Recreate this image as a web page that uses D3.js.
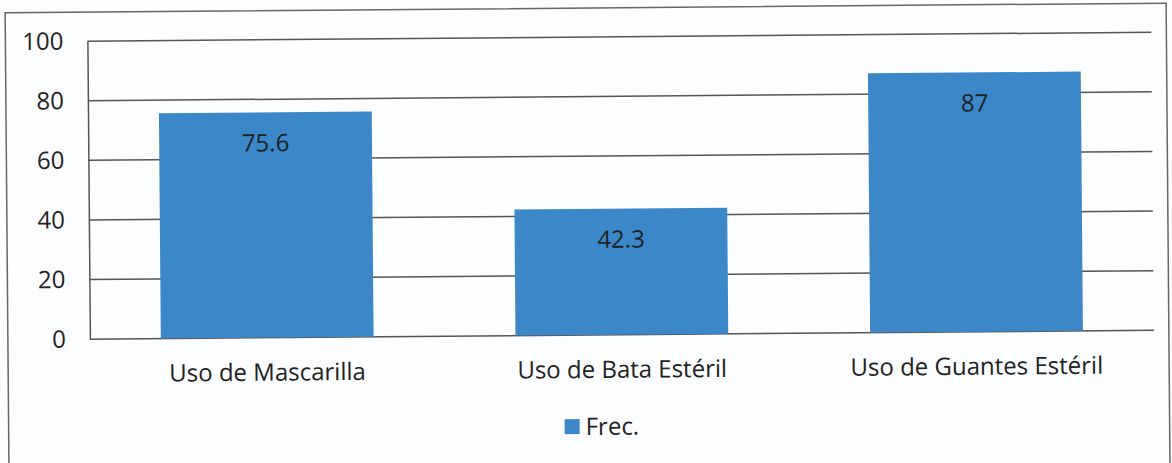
<!DOCTYPE html>
<html>
<head>
<meta charset="utf-8">
<script src="https://cdn.jsdelivr.net/npm/d3@7"></script>
<style>
  body { margin: 0; background: #fcfdfe; }
  text { font-family: "Open Sans", sans-serif; fill: #222; }
</style>
</head>
<body>
<script>
/* chart data */
var categories = ["Uso de Mascarilla", "Uso de Bata Estéril", "Uso de Guantes Estéril"];
var values = [75.6, 42.3, 87];
var yTicks = [0, 20, 40, 60, 80, 100];
var seriesName = "Frec.";

var W = 1172, H = 463;
var margin = { top: 37, right: 19, bottom: 128, left: 89 };
var font = "'Open Sans', sans-serif";
var fs = "24px";

var svg = d3.select("body").append("svg")
    .attr("width", W)
    .attr("height", H);

// the scan is a little tilted
var g = svg.append("g")
    .attr("transform", "rotate(-0.48," + (W / 2) + "," + (H / 2) + ")");

g.append("rect")
    .attr("x", 7).attr("y", 8)
    .attr("width", 1161).attr("height", 470)
    .attr("fill", "none")
    .attr("stroke", "#666")
    .attr("stroke-width", 1.5);

var x = d3.scaleBand()
    .domain(categories)
    .range([margin.left, W - margin.right])
    .paddingInner(0.4)
    .paddingOuter(0.2);

var y = d3.scaleLinear()
    .domain([0, 100])
    .range([H - margin.bottom, margin.top]);

// gridlines
g.selectAll("line.grid")
    .data(yTicks)
    .enter()
    .append("line")
    .attr("class", "grid")
    .attr("x1", margin.left)
    .attr("x2", W - margin.right)
    .attr("y1", function(d) { return y(d); })
    .attr("y2", function(d) { return y(d); })
    .attr("stroke", "#555")
    .attr("stroke-width", 1.5);

// left axis
var yAxis = g.append("g")
    .attr("transform", "translate(" + margin.left + ",0)")
    .call(d3.axisLeft(y).tickValues(yTicks).tickSize(0).tickPadding(24));
yAxis.select(".domain").attr("stroke", "#555").attr("stroke-width", 1.5);
yAxis.selectAll("text")
    .style("font-size", fs)
    .style("font-family", font)
    .attr("fill", "#222");

// bars
g.selectAll("rect.bar")
    .data(values)
    .enter()
    .append("rect")
    .attr("class", "bar")
    .attr("x", function(d, i) { return x(categories[i]); })
    .attr("width", x.bandwidth())
    .attr("y", function(d) { return y(d); })
    .attr("height", function(d) { return y(0) - y(d); })
    .attr("fill", "#3b87c8");

// value labels
g.selectAll("text.val")
    .data(values)
    .enter()
    .append("text")
    .attr("class", "val")
    .attr("x", function(d, i) { return x(categories[i]) + x.bandwidth() / 2; })
    .attr("y", function(d) { return y(d) + 39; })
    .attr("text-anchor", "middle")
    .style("font-size", fs)
    .text(function(d) { return d; });

// category labels
var xAxis = g.append("g")
    .attr("transform", "translate(0," + y(0) + ")")
    .call(d3.axisBottom(x).tickSize(0).tickPadding(26));
xAxis.select(".domain").remove();
xAxis.selectAll("text")
    .style("font-size", fs)
    .style("font-family", font)
    .attr("fill", "#222");

// legend
var leg = g.append("g").attr("transform", "translate(563,419)");
leg.append("rect")
    .attr("width", 15).attr("height", 15)
    .attr("fill", "#3b87c8");
leg.append("text")
    .attr("x", 21).attr("y", 16)
    .style("font-size", fs)
    .text(seriesName);
</script>
</body>
</html>
